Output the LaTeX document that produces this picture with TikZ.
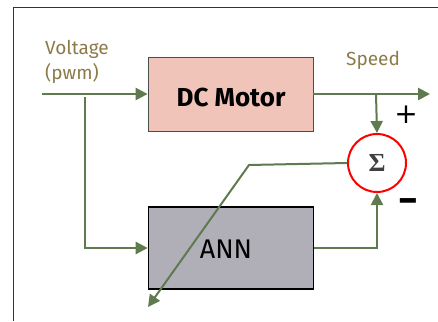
\documentclass[tikz,border=0pt]{standalone}
\usepackage{fontspec}
\setmainfont{Fira Sans}
\newfontfamily\sigmafont{Liberation Serif}
\newfontfamily\signfont{DejaVu Sans}
\usetikzlibrary{arrows.meta}
\definecolor{lineg}{HTML}{5E7A4E}
\definecolor{labelc}{HTML}{8C7A48}
\definecolor{motorfill}{HTML}{F0C4B8}
\definecolor{annfill}{HTML}{B0AFB8}
\tikzset{
  conn/.style={draw=lineg, line width=2.6pt, -{Triangle[length=12pt,width=12pt]}},
  thinconn/.style={draw=lineg, line width=2pt, -{Triangle[length=12pt,width=12pt]}},
  blockbox/.style={minimum width=165pt, minimum height=74pt, inner sep=0pt},
  lbl/.style={text=labelc, font=\fontsize{19}{25}\selectfont, align=left, inner sep=0pt},
}
\begin{document}
\begin{tikzpicture}[x=1pt,y=-1pt]
\useasboundingbox (0,0) rectangle (438,321);
\draw[black!80, line width=0.8pt] (13,321) -- (13,7) -- (438,7);
\node[blockbox, fill=motorfill, draw=black!70, line width=0.8pt] (dc) at (230.5,94) {};
\node[font=\bfseries\fontsize{26}{28}\selectfont] (dct) at (231,97) {DC Motor};
\node[blockbox, minimum height=82pt, fill=annfill, draw=black, line width=1.6pt] (ann) at (231,248) {};
\node[font=\fontsize{27}{28}\selectfont] (annt) at (226,249) {ANN};
\node[circle, draw=red, line width=2pt, minimum size=58pt, inner sep=0pt, fill=white] (sum) at (377,163) {};
\node[font=\sigmafont\bfseries\fontsize{26}{26}\selectfont, text=black!75] (sumt) at (377,163) {Σ};
\coordinate (in) at (42,94);
\coordinate (br) at (85,97);
\coordinate (brdown) at (85,248);
\coordinate (out) at (430,94);
\coordinate (sp) at (376,94);
\coordinate (annc) at (377,248);
\coordinate (kink) at (249,165);
\coordinate (fb) at (148,307);
\draw[conn] (in) -- (dc.west);
\draw[conn] (br) -- (brdown) -- (ann.west);
\draw[conn] (dc.east) -- (out);
\draw[thinconn] (sp) -- (sum.north);
\draw[thinconn] (ann.east) -- (annc) -- (sum.south);
\draw[thinconn] (sum.west) -- (kink) -- (fb);
\node[lbl, anchor=north west] (volt) at (45,40) {Voltage\\(pwm)};
\node[lbl, anchor=north west] (speed) at (346,51) {Speed};
\node[font=\signfont\fontsize{28}{28}\selectfont] (plus) at (406,115) {+};
\node[font=\bfseries\fontsize{38}{38}\selectfont] (minus) at (408,206) {−};
\end{tikzpicture}
\end{document}
